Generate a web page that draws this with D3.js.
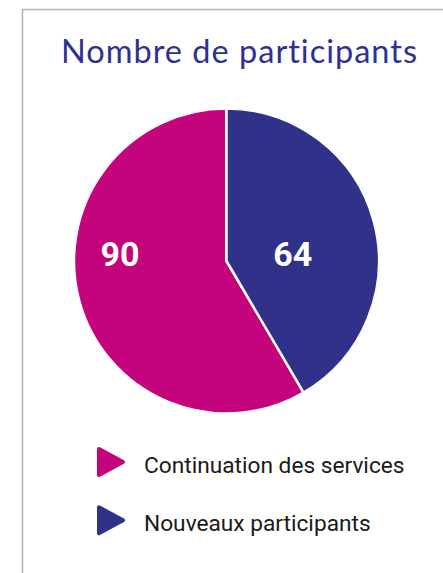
<!DOCTYPE html>
<html>
<head>
    <meta charset="utf-8">
    <title>Nombre de participants</title>
    <script src="https://d3js.org/d3.v7.min.js"></script>
    <style>
        body { margin: 0; background: #fff; }
        .title { font-family: Lato, "Noto Sans", sans-serif; font-size: 32.5px; letter-spacing: 1px; fill: #2e3190; }
        .slice-label { font-family: Roboto, sans-serif; font-weight: 700; font-size: 34px; fill: #fff; text-anchor: middle; }
        .legend-label { font-family: Roboto, sans-serif; font-size: 22.7px; fill: #1a1a1a; }
    </style>
</head>
<body>
    <div id="chart"></div>

    <script>
        // données
        const categories = ["Continuation des services", "Nouveaux participants"];
        const values = [90, 64];
        const colors = ["#c4047c", "#303188"];

        const width = 443, height = 573;
        const cx = 226.5, cy = 261, radius = 152.5;

        const svg = d3.select("#chart")
            .append("svg")
            .attr("width", width)
            .attr("height", height);

        // cadre (haut + gauche)
        svg.append("path")
            .attr("d", `M22.5,${height} L22.5,9.5 L${width},9.5`)
            .attr("fill", "none")
            .attr("stroke", "#b3b3b3")
            .attr("stroke-width", 1.5);

        // titre
        svg.append("text")
            .attr("class", "title")
            .attr("x", 239.5)
            .attr("y", 63)
            .attr("text-anchor", "middle")
            .text("Nombre de participants");

        // le plus petit en premier, à partir de midi
        const pie = d3.pie()
            .value(i => values[i])
            .sortValues((a, b) => a - b);

        const arcs = pie(d3.range(values.length));

        const arc = d3.arc()
            .innerRadius(0)
            .outerRadius(radius);

        const g = svg.append("g")
            .attr("transform", `translate(${cx},${cy})`);

        g.selectAll("path")
            .data(arcs)
            .enter()
            .append("path")
            .attr("d", arc)
            .attr("fill", d => colors[d.data])
            .attr("stroke", "#fff")
            .attr("stroke-width", 2.5)
            .attr("stroke-linejoin", "round");

        // étiquettes des valeurs
        const labelFactor = [0.724, 0.45];
        g.selectAll(".slice-label")
            .data(arcs)
            .enter()
            .append("text")
            .attr("class", "slice-label")
            .attr("x", d => {
                const r = radius * labelFactor[d.data];
                return d3.arc().innerRadius(r).outerRadius(r).centroid(d)[0];
            })
            .attr("y", 5)
            .text(d => values[d.data]);

        // légende
        const legend = svg.append("g")
            .attr("transform", "translate(99, 462)");

        categories.forEach((cat, i) => {
            const row = legend.append("g")
                .attr("transform", `translate(0, ${i * 58.3})`);

            row.append("path")
                .attr("d", "M0,-13 L24,0 L0,13 Z")
                .attr("fill", colors[i])
                .attr("stroke", colors[i])
                .attr("stroke-width", 4)
                .attr("stroke-linejoin", "round");

            row.append("text")
                .attr("class", "legend-label")
                .attr("x", 45)
                .attr("y", 11)
                .text(cat);
        });
    </script>
</body>
</html>
